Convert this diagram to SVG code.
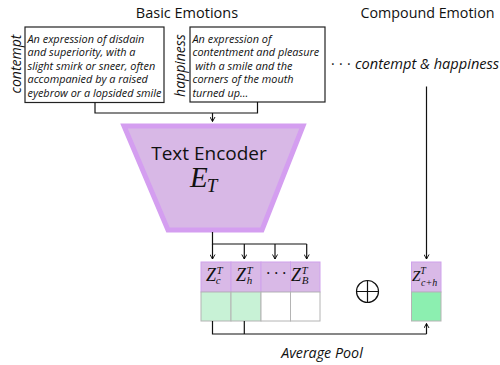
<svg xmlns="http://www.w3.org/2000/svg" width="500" height="365" viewBox="0 0 500 365">
<defs>
<marker id="ah" viewBox="0 0 6 6" refX="5" refY="3" markerWidth="6" markerHeight="6" orient="auto" markerUnits="userSpaceOnUse">
<path d="M0.5,0.5 L5,3 L0.5,5.5" fill="none" stroke="#000" stroke-width="0.9"/>
</marker>
<style>
.t{font-family:"Open Sans","Noto Sans","Liberation Sans",sans-serif;fill:#111}
.ti{font-family:"Open Sans","Noto Sans","Liberation Sans",sans-serif;font-style:italic;fill:#111}
.m{font-family:"Liberation Serif","DejaVu Serif",serif;font-style:italic;fill:#111}
.box{fill:#fff;stroke:#222;stroke-width:1.2}
.ln{fill:none;stroke:#111;stroke-width:1.2}
.arr{fill:none;stroke:#111;stroke-width:1.2;marker-end:url(#ah)}
.zt{fill:#d9b9e7;stroke:#cfa2ec;stroke-width:1}
.zb{stroke:#b4b4b4;stroke-width:1}
</style>
</defs>
<text class="t" x="187" y="18" font-size="14.5" text-anchor="middle">Basic Emotions</text>
<text class="t" x="427.5" y="18" font-size="14.3" text-anchor="middle">Compound Emotion</text>

<g id="contempt">
<text class="ti" transform="translate(20.5,64) rotate(-90)" font-size="14" text-anchor="middle">contempt</text>
<rect class="box" x="25" y="27" width="139" height="75.5"/>
<text class="ti" font-size="10.9" x="27.5"><tspan x="27.5" y="42.5">An expression of disdain</tspan><tspan x="27.5" y="56">and superiority, with a</tspan><tspan x="27.5" y="69.5">slight smirk or sneer, often</tspan><tspan x="27.5" y="83">accompanied by a raised</tspan><tspan x="27.5" y="96.5">eyebrow or a lopsided smile</tspan></text>
</g>

<g id="happiness">
<text class="ti" transform="translate(184.5,65.5) rotate(-90)" font-size="14" text-anchor="middle">happiness</text>
<rect class="box" x="190" y="27" width="135" height="75"/>
<text class="ti" font-size="10.9" x="192.5" xml:space="preserve"><tspan x="192.5" y="42.5">An expression of</tspan><tspan x="192.5" y="56">contentment and pleasure</tspan><tspan x="192.5" y="69.5"> with a smile and the</tspan><tspan x="192.5" y="83">corners of the mouth</tspan><tspan x="192.5" y="96.5">turned up...</tspan></text>
</g>

<g id="compound-label">
<text class="t" x="331" y="69" font-size="14"><tspan>·</tspan><tspan x="339">·</tspan><tspan x="347">·</tspan></text>
<text class="ti" x="355" y="69" font-size="14.6">contempt &amp; happiness</text>
</g>

<g id="encoder">
<polygon points="124,126 303,126 262,230 168,230" fill="#d8b8e6" stroke="#d49ef0" stroke-width="5" stroke-linejoin="miter"/>
<text class="t" x="209" y="160" font-size="19" text-anchor="middle">Text Encoder</text>
<text class="m" x="190" y="187" font-size="29">E<tspan font-size="19" dx="-1" dy="5">T</tspan></text>
</g>

<g id="basic-embeddings">
<rect class="zt" x="201" y="262" width="30" height="30"/>
<rect class="zt" x="231" y="262" width="30" height="30"/>
<rect class="zt" x="261" y="262" width="29.5" height="30"/>
<rect class="zt" x="290.5" y="262" width="29.5" height="30"/>
<rect class="zb" x="201" y="292" width="30" height="29" fill="#c8f2d6"/>
<rect class="zb" x="231" y="292" width="30" height="29" fill="#c8f2d6"/>
<rect class="zb" x="261" y="292" width="29.5" height="29" fill="#fff"/>
<rect class="zb" x="290.5" y="292" width="29.5" height="29" fill="#fff"/>
<text class="m" font-size="18" x="206" y="281">Z<tspan font-size="11" dx="0.5" dy="-7.5">T</tspan><tspan font-size="11" dx="-6" dy="10.5">c</tspan></text>
<text class="m" font-size="18" x="236" y="281">Z<tspan font-size="11" dx="0.5" dy="-7.5">T</tspan><tspan font-size="11" dx="-6" dy="10.5">h</tspan></text>
<text class="m" font-size="16" x="266" y="279" font-style="normal">· · ·</text>
<text class="m" font-size="18" x="291" y="281">Z<tspan font-size="11" dx="0.5" dy="-7.5">T</tspan><tspan font-size="11" dx="-6" dy="10.5">B</tspan></text>
</g>

<g id="compound-embedding">
<rect class="zt" x="411.5" y="262" width="29.5" height="30"/>
<rect class="zb" x="411.5" y="292" width="29.5" height="29" fill="#8cefb0"/>
<text class="m" font-size="15" x="412" y="280.5">Z<tspan font-size="10" dx="0" dy="-6.5">T</tspan></text>
<text class="m" font-size="10" x="421" y="286">c+h</text>
</g>

<g id="oplus">
<circle cx="367.5" cy="291.5" r="11" fill="none" stroke="#111" stroke-width="1.2"/>
<path d="M356.5,291.5 H378.5 M367.5,280.5 V302.5" class="ln"/>
</g>

<text class="ti" x="322" y="358" font-size="14.3" text-anchor="middle">Average Pool</text>

<g id="connectors">
<path class="ln" d="M95,102.5 V113 H257.5 V102"/>
<path class="arr" d="M212.5,113 V121.5"/>
<path class="ln" d="M212.5,232 V244 H306.7"/>
<path class="arr" d="M212.5,244 V259"/>
<path class="arr" d="M244.3,244 V259"/>
<path class="arr" d="M275,244 V259"/>
<path class="arr" d="M306.7,244 V259"/>
<path class="arr" d="M426.5,86.5 V259"/>
<path class="ln" d="M212.5,321 V334 H426.5"/>
<path class="ln" d="M244.3,321 V334"/>
<path class="arr" d="M426.5,334 V323.5"/>
</g>
</svg>
